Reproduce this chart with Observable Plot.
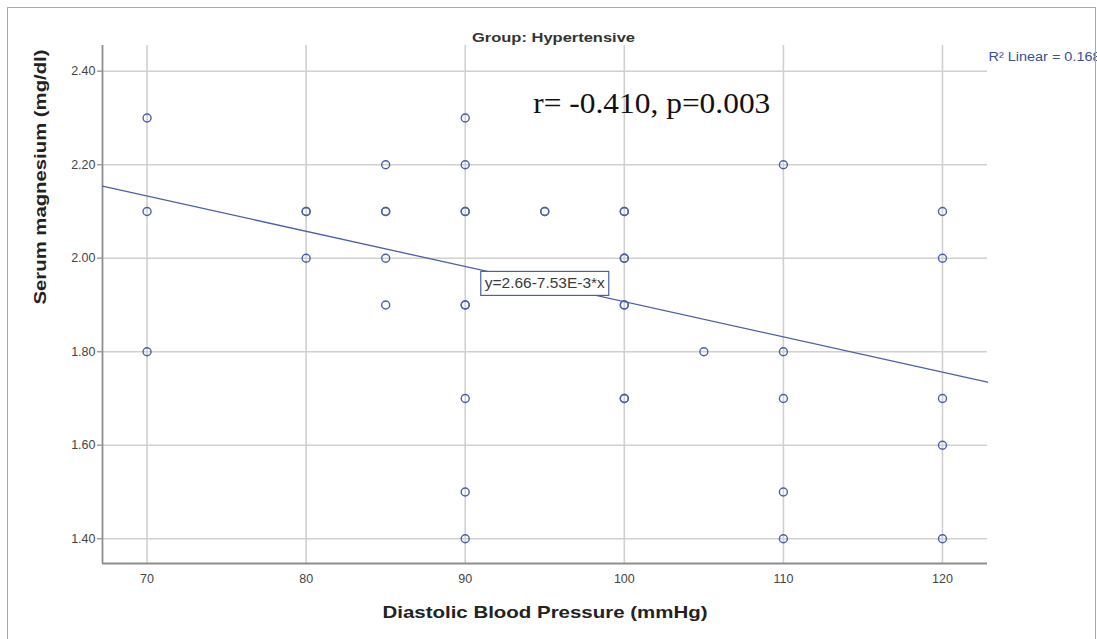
<!DOCTYPE html>
<html><head><meta charset="utf-8">
<script src="https://cdn.jsdelivr.net/npm/d3@7"></script>
<script src="https://cdn.jsdelivr.net/npm/@observablehq/plot@0.6"></script>
<style>
body{margin:0;background:#fff;}
#wrap{position:relative;width:1097px;height:639px;overflow:hidden;background:#fff;}
#border{position:absolute;left:7px;top:7px;width:1089px;height:660px;border:1.5px solid #a8a8a8;box-sizing:border-box;pointer-events:none;}
</style></head><body>
<div id="wrap"><div id="chart"></div><div id="border"></div></div>
<script>
// Data
const diastolic = [70,70,70, 80,80,80, 85,85,85,85,85, 90,90,90,90,90,90,90,90,90, 95,95, 100,100,100,100,100,100,100,100, 105, 110,110,110,110,110, 120,120,120,120,120];
const magnesium = [2.30,2.10,1.80, 2.10,2.10,2.00, 2.20,2.10,2.10,2.00,1.90, 2.30,2.20,2.10,2.10,1.90,1.90,1.70,1.50,1.40, 2.10,2.10, 2.10,2.10,2.00,2.00,1.90,1.90,1.70,1.70, 1.80, 2.20,1.80,1.70,1.50,1.40, 2.10,2.00,1.70,1.60,1.40];
const xTicks = [70, 80, 90, 100, 110, 120];
const yTicks = [1.40, 1.60, 1.80, 2.00, 2.20, 2.40];
const fitIntercept = 2.66;
const fitSlope = -7.53e-3;
const titleText = "Group: Hypertensive";
const statText = "r= -0.410, p=0.003";
const r2Text = "R² Linear = 0.168";
const eqText = "y=2.66-7.53E-3*x";
const xLabel = "Diastolic Blood Pressure (mmHg)";
const yLabel = "Serum magnesium (mg/dl)";

const xDomain = [67.2, 122.83];
const yDomain = [1.347, 2.455];

const points = diastolic.map((d, i) => ({x: d, y: magnesium[i]}));
const fitLine = xDomain.map(x => ({x, y: fitIntercept + fitSlope * x}));

const blue = "#4a5fa8";
const chart = Plot.plot({
  width: 1097, height: 639,
  marginLeft: 102, marginRight: 110, marginTop: 45, marginBottom: 76,
  style: {fontFamily: "'Liberation Sans', Arial, sans-serif", background: "white", overflow: "visible"},
  x: {domain: xDomain},
  y: {domain: yDomain},
  marks: [
    Plot.gridX(xTicks, {stroke: "#d0d0d0", strokeOpacity: 1, strokeWidth: 1.6}),
    Plot.gridY(yTicks, {stroke: "#d0d0d0", strokeOpacity: 1, strokeWidth: 1.6}),
    Plot.ruleX([xDomain[0]], {stroke: "#8e8e8e", strokeWidth: 1.8}),
    Plot.ruleY([yDomain[0]], {stroke: "#8e8e8e", strokeWidth: 1.8}),
    Plot.axisX(xTicks, {tickSize: 0, tickPadding: 11, fontSize: 12.5, fill: "#444", label: null}),
    Plot.axisY(yTicks, {tickSize: 5, tickPadding: 2, tickFormat: d3.format(".2f"), fontSize: 12.5, fill: "#444", stroke: "#a0a0a0", strokeWidth: 1.5, label: null}),
    Plot.line(fitLine, {x: "x", y: "y", stroke: blue, strokeWidth: 1.3}),
    Plot.dot(points, {x: "x", y: "y", r: 4, stroke: blue, strokeWidth: 1.4, fill: "none"}),
    Plot.text([eqText], {x: 95, y: 1.945, fontSize: 14, fill: "#3a3a3a", ariaLabel: () => "equation"}),
    Plot.text([statText], {x: 94.28, y: 2.331, textAnchor: "start", fontSize: 29, fontFamily: "'Liberation Serif', 'Times New Roman', serif", fill: "#111", ariaLabel: () => "stat"}),
    Plot.text([r2Text], {x: xDomain[1], y: 2.43, textAnchor: "start", dx: 1, fontSize: 12, fill: "#3a4f96", ariaLabel: () => "r2"}),
    Plot.text([titleText], {frameAnchor: "top", dx: 8.5, dy: -12, fontSize: 12.5, fontWeight: "bold", fill: "#333", ariaLabel: () => "title"}),
    Plot.text([xLabel], {frameAnchor: "bottom", dy: 54, fontSize: 17, fontWeight: "bold", fill: "#222", ariaLabel: () => "xlabel"}),
    Plot.text([yLabel], {frameAnchor: "left", dx: -62, rotate: -90, fontSize: 17, fontWeight: "bold", fill: "#222", ariaLabel: () => "ylabel"})
  ]
});
document.getElementById("chart").appendChild(chart);

const svg = d3.select(chart);
function pick(label) {
  let t = svg.select(`text[aria-label="${label}"]`);
  if (t.empty()) t = svg.select(`g[aria-label="${label}"] text`);
  return t;
}
function fitWidth(label, w) {
  const t = pick(label);
  if (!t.empty()) t.attr("textLength", w).attr("lengthAdjust", "spacingAndGlyphs");
}
fitWidth("title", 163);
fitWidth("stat", 237);
fitWidth("xlabel", 325);
fitWidth("ylabel", 255);
fitWidth("equation", 120);
fitWidth("r2", 112);

// box around equation
const eq = pick("equation");
if (!eq.empty()) {
  const bb = eq.node().getBBox();
  const node = eq.node();
  const tr = node.getAttribute("transform");
  const rect = document.createElementNS("http://www.w3.org/2000/svg", "rect");
  rect.setAttribute("x", bb.x - 4);
  rect.setAttribute("y", bb.y - 4);
  rect.setAttribute("width", bb.width + 8);
  rect.setAttribute("height", bb.height + 8);
  rect.setAttribute("fill", "white");
  rect.setAttribute("stroke", blue);
  rect.setAttribute("stroke-width", 1.2);
  if (tr) rect.setAttribute("transform", tr);
  node.parentNode.insertBefore(rect, node);
}
</script>
</body></html>
